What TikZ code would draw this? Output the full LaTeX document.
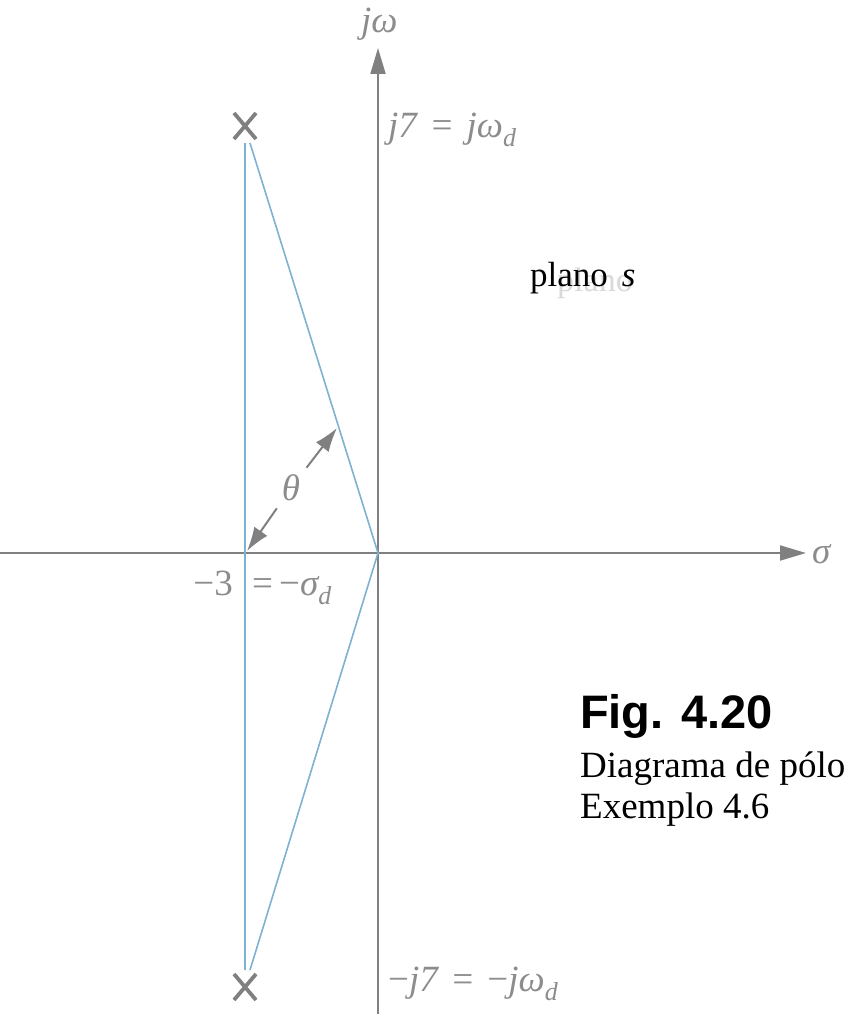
\documentclass[tikz,border=0pt]{standalone}
\usepackage{fontspec}
\setmainfont{Liberation Serif}
\newfontfamily\figsans{Liberation Sans}
\usetikzlibrary{arrows.meta}
\definecolor{axisgray}{RGB}{128,128,128}
\definecolor{labgray}{RGB}{140,140,140}
\definecolor{poleblue}{RGB}{125,178,208}
\tikzset{
  axis/.style={draw=axisgray,line width=2pt,-{Triangle[length=26pt,width=15pt]}},
  bline/.style={draw=poleblue,line width=1.6pt},
  polex/.style={draw=axisgray,line width=3.8pt},
  glab/.style={text=labgray,font=\fontsize{37}{37}\selectfont\itshape,inner sep=0pt,anchor=base west},
  thetaarr/.style={draw=axisgray,line width=2pt,-{Latex[length=24pt,width=16pt]}},
}
\begin{document}
\begin{tikzpicture}[x=1pt,y=-1pt]
\useasboundingbox (0,0) rectangle (844,1014);
\clip (0,0) rectangle (844,1014);
% axes
\coordinate (O) at (378,553);
\coordinate (xl) at (0,553);
\coordinate (xr) at (806,553);
\coordinate (yb) at (378,1014);
\coordinate (yt) at (378,48);
\draw[axis] (xl) -- (xr);
\draw[axis] (yb) -- (yt);
% poles
\coordinate (p1) at (245,126);
\coordinate (p2) at (245,987);
\coordinate (p1l) at (245,143);
\coordinate (p2l) at (245,970);
\coordinate (p1d) at (250,143);
\coordinate (p2d) at (250,970);
\draw[bline] (p1l) -- (p2l);
\draw[bline] (p1d) -- (O) -- (p2d);
\draw[polex] ([shift={(-11,-13)}]p1) -- ([shift={(11,13)}]p1);
\draw[polex] ([shift={(-11,13)}]p1) -- ([shift={(11,-13)}]p1);
\draw[polex] ([shift={(-11,-13)}]p2) -- ([shift={(11,13)}]p2);
\draw[polex] ([shift={(-11,13)}]p2) -- ([shift={(11,-13)}]p2);
% theta
\coordinate (ta) at (337,428);
\coordinate (tb) at (247,551);
\node[glab,anchor=center,inner sep=7pt] (th) at (291,488) {θ};
\draw[thetaarr] (th) -- (ta);
\draw[thetaarr] (th) -- (tb);
% labels
\node[glab] (jw) at (361,33) {jω};
\node[glab] (j7) at (388,137) {j7\,\,=\,\,jω\textsubscript{d}};
\node[glab] (mj7) at (388,991) {\upshape−\itshape j7\,\,=\,\,\upshape−\itshape jω\textsubscript{d}};
\node[glab,anchor=base east] (m3) at (233,595) {\upshape−3};
\node[glab] (msd) at (252,595) {\upshape=\,−\itshape σ\textsubscript{d}};
\node[glab] (sig) at (812,563) {σ};
% plano s
\node[inner sep=0pt,anchor=base west,text=black!15,font=\fontsize{34}{34}\selectfont] (ghost) at (557,291) {plano};
\node[inner sep=0pt,anchor=base west,font=\fontsize{35}{35}\selectfont] (plano) at (530,286) {plano\hspace{14pt}\textit{s}};
% caption
\node[inner sep=0pt,anchor=base west,font=\figsans\bfseries\fontsize{47}{47}\selectfont] (fig) at (580,728) {Fig. 4.20};
\node[inner sep=0pt,anchor=base west,font=\fontsize{37}{37}\selectfont] (cap1) at (580,777) {Diagrama de pólo};
\node[inner sep=0pt,anchor=base west,font=\fontsize{37}{37}\selectfont] (cap2) at (580,818) {Exemplo 4.6};
\end{tikzpicture}
\end{document}
